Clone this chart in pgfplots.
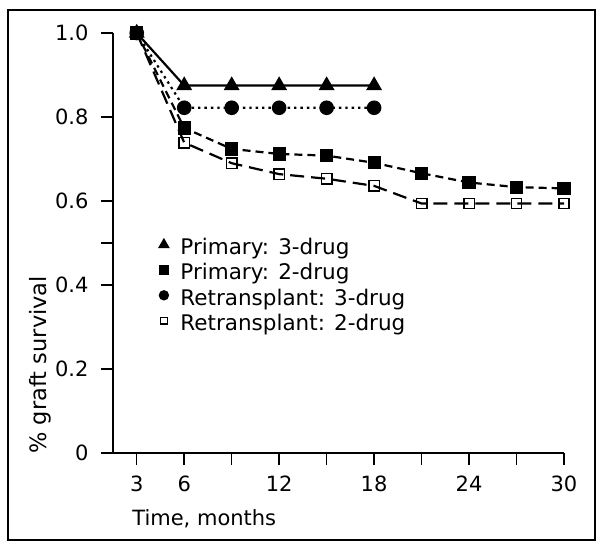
\documentclass[border=0pt]{standalone}
\usepackage{pgfplots}
\pgfplotsset{compat=1.18}
\usepackage{fontspec}
\setmainfont{DejaVu Sans}
\begin{document}
\begin{tikzpicture}
\path[use as bounding box] (-113bp,-95bp) rectangle (490bp,453bp);
\begin{axis}[
  scale only axis, width=451bp, height=420bp,
  xmin=1.5, xmax=30, ymin=0, ymax=1,
  axis lines=left, axis line style={-, line width=1.8bp},
  clip=false,
  xtick={3,6,...,30}, xticklabels={3,6,,12,,18,,24,,30},
  ytick={0,0.2,0.4,0.5,0.6,0.8,1}, yticklabels={0,0.2,0.4,,0.6,0.8,1.0},
  tick align=outside, major tick length=12bp,
  tick style={line width=1.5bp, black},
  tick label style={font=\fontsize{21bp}{25bp}\selectfont},
  xticklabel style={yshift=-7bp},
  yticklabel style={xshift=-9bp},
  xlabel={Time, months}, ylabel={\% graft survival},
  label style={font=\fontsize{21bp}{25bp}\selectfont},
  xlabel style={at={([yshift=-66bp]axis description cs:0.035,0)}, anchor=west},
  ylabel style={at={([xshift=-73bp]axis description cs:0,0.21)}, anchor=center, font=\fontsize{22.5bp}{26bp}\selectfont},
  reverse legend,
  legend cell align=left,
  legend style={at={(axis cs:4.45,0.513)}, anchor=north west, draw=none, fill=none,
    inner sep=0pt, row sep=6.5bp, column sep=12bp,
    font=\fontsize{21.5bp}{25bp}\selectfont, nodes={inner sep=0.5bp}},
  legend image code/.code={\draw[#1, only marks, every mark/.append style={scale=0.65}] plot coordinates {(0bp,2.5bp)};},
  every axis plot/.append style={line width=2.2bp, black},
]
\addplot[dash pattern=on 14bp off 7bp, mark=square, mark size=5.2bp, mark options={solid, fill=white, line width=1.5bp}]
  coordinates {(3,1.0) (6,0.739) (9,0.690) (12,0.664) (15,0.653) (18,0.636) (21,0.594) (24,0.594) (27,0.594) (30,0.594)};
\addlegendentry{Retransplant: 2-drug}
\addplot[dash pattern=on 2.4bp off 4bp, mark=*, mark size=6.2bp, mark options={solid}]
  coordinates {(3,1.0) (6,0.822) (9,0.822) (12,0.822) (15,0.822) (18,0.822)};
\addlegendentry{Retransplant: 3-drug}
\addplot[dash pattern=on 8bp off 5bp, mark=square*, mark size=5.5bp, mark options={solid}]
  coordinates {(3,1.0) (6,0.774) (9,0.724) (12,0.712) (15,0.708) (18,0.691) (21,0.666) (24,0.644) (27,0.633) (30,0.630)};
\addlegendentry{Primary: 2-drug}
\addplot[solid, mark=triangle*, mark size=7bp, mark options={solid}]
  coordinates {(3,1.0) (6,0.875) (9,0.875) (12,0.875) (15,0.875) (18,0.875)};
\addlegendentry{Primary: 3-drug}
\end{axis}
\draw[line width=1.8bp] (-105bp,-87bp) rectangle (482bp,443bp);
\end{tikzpicture}
\end{document}
